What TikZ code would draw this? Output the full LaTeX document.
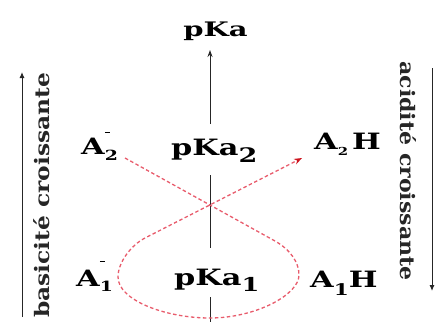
\documentclass[tikz,border=0pt]{standalone}
\usepackage{fontspec}
\usepackage{graphicx}
\setmainfont{DejaVu Serif}
\usetikzlibrary{arrows.meta,calc}
\definecolor{dashred}{RGB}{232,92,108}
\definecolor{tipred}{RGB}{205,20,30}
\newcommand{\sx}[1]{\scalebox{1.35}[1]{#1}}
\newcommand{\lab}{\fontsize{22.5}{26}\selectfont\bfseries}
\tikzset{
  lbl/.style={inner sep=0pt, anchor=base west, font=\lab},
  axis/.style={line width=1pt, draw=black!85},
  side/.style={line width=1pt, draw=black!85, -{Latex[length=6pt,width=5pt]}},
  rottext/.style={inner sep=0pt, font=\fontsize{21}{24}\selectfont\bfseries, text=black!85},
  path red/.style={draw=dashred, line width=1.3pt, dash pattern=on 3.5pt off 2.5pt},
}
\begin{document}
\begin{tikzpicture}[x=1pt,y=-1pt]
\useasboundingbox (0,0) rectangle (435,322);
% labels
\node[inner sep=0pt, anchor=base, font=\fontsize{20}{24}\selectfont\bfseries] (top) at (215.5,36) {\scalebox{1.45}[1]{pKa}};
\node[lbl] (pk2) at (171,155) {\sx{pKa\raisebox{-7pt}{\fontsize{20}{24}\selectfont 2}}};
\node[lbl] (pk1) at (174,285) {\sx{pKa\raisebox{-6pt}{\fontsize{19}{24}\selectfont 1}}};
\node[lbl] (a2m) at (81,154) {\sx{A\makebox[0pt][l]{\raisebox{21pt}{\rule{4pt}{1.4pt}}}\raisebox{-6pt}{\fontsize{14}{16}\selectfont 2}}};
\node[lbl] (a2h) at (314,149) {\sx{A\raisebox{-6pt}{\fontsize{11}{13}\selectfont 2}\hspace{3pt}H}};
\node[lbl] (a1m) at (76,286) {\sx{A\makebox[0pt][l]{\raisebox{24pt}{\rule{4pt}{1.4pt}}}\raisebox{-5pt}{\fontsize{14}{16}\selectfont 1}}};
\node[lbl] (a1h) at (310,287) {\sx{A\raisebox{-8pt}{\fontsize{16}{18}\selectfont 1}H}};
% axis
\coordinate (ax1) at (210,124);
\coordinate (ax0) at (210,50);
\coordinate (ax2) at (210,175);
\coordinate (ax3) at (210,248);
\coordinate (ax4) at (210,297);
\coordinate (ax5) at (210,322);
\draw[axis, -{Stealth[length=7pt,width=5pt]}] (ax1) -- (ax0);
\draw[axis] (ax2) -- (ax3);
\draw[axis] (ax4) -- (ax5);
% side arrows
\coordinate (l0) at (22,317);
\coordinate (l1) at (22,72);
\coordinate (r0) at (432,68);
\coordinate (r1) at (432,291);
\draw[side] (l0) -- (l1);
\draw[side] (r0) -- (r1);
\node[rottext, rotate=90] (bas) at (42,195.5) {\scalebox{1.11}[0.95]{basicité croissante}};
\node[rottext, rotate=-90] (aci) at (408,171) {\scalebox{1.05}[0.95]{acidité croissante}};
% red dashed path
\coordinate (p0) at (125,158);
\coordinate (p1) at (275,241);
\coordinate (p2) at (299,275);
\coordinate (p3) at (210,318);
\coordinate (p4) at (118,277);
\coordinate (p5) at (145,238);
\coordinate (p6) at (302,158);
\draw[path red] (p0) -- (p1) .. controls (290,249.5) and (299,262) .. (p2)
  .. controls (299,295) and (255,318) .. (p3)
  .. controls (165,318) and (118,300) .. (p4)
  .. controls (118,262) and (131.6,244.8) .. (p5) -- ($(p6)!6pt!(p5)$);
\draw[draw=none, fill=tipred] (p6) -- ($(p6)!8pt!(p5)!3pt!90:(p5)$) -- ($(p6)!5.5pt!(p5)$) -- ($(p6)!8pt!(p5)!3pt!-90:(p5)$) -- cycle;
\end{tikzpicture}
\end{document}
